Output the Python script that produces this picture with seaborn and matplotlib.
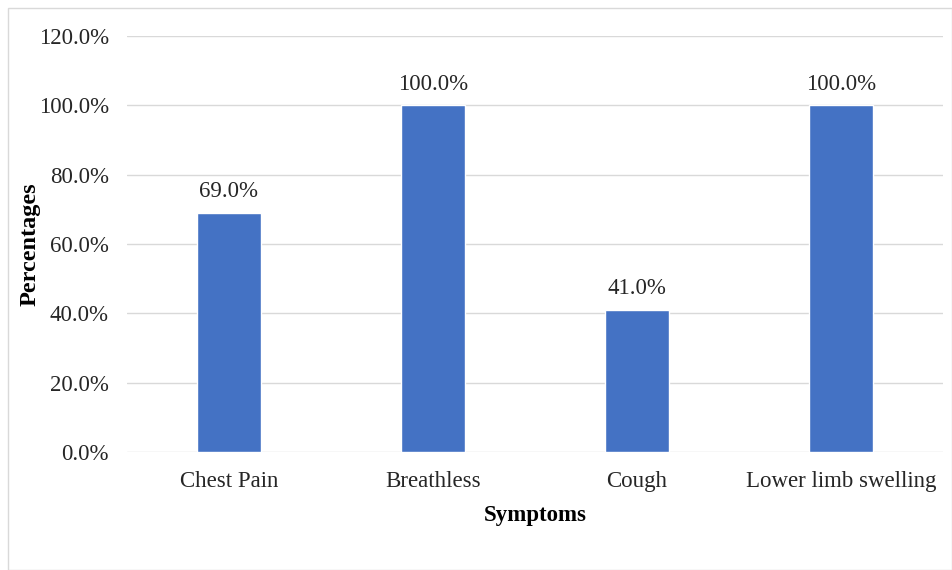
import matplotlib
matplotlib.use("Agg")
import matplotlib.pyplot as plt
from matplotlib.patches import Rectangle
from matplotlib.ticker import FuncFormatter, MultipleLocator
import seaborn as sns
import pandas as pd

symptoms = ["Chest Pain", "Breathless", "Cough", "Lower limb swelling"]
percentages = [69.0, 100.0, 41.0, 100.0]

sns.set_theme(style="white")
plt.rcParams["font.family"] = ["Liberation Serif", "DejaVu Serif"]

df = pd.DataFrame({"Symptoms": symptoms, "Percentages": percentages})

W, H = 952, 570
fig = plt.figure(figsize=(W / 100, H / 100), dpi=100)
ax = fig.add_axes([127 / W, 1 - 452 / H, (943 - 127) / W, (452 - 36) / H])

sns.barplot(data=df, x="Symptoms", y="Percentages", color="#4472C4",
            width=0.31, saturation=1, ax=ax, zorder=3)

ax.set_ylim(0, 120)
ax.set_xlim(-0.5, len(symptoms) - 0.5)
ax.yaxis.set_major_locator(MultipleLocator(20))
ax.yaxis.set_major_formatter(FuncFormatter(lambda v, _: f"{v:.1f}%"))
ax.grid(axis="y", color="#D9D9D9", linewidth=1, zorder=0)
for s in ax.spines.values():
    s.set_visible(False)
ax.tick_params(axis="both", length=0, labelsize=16.5, colors="#262626")
ax.tick_params(axis="x", pad=14)
ax.tick_params(axis="y", pad=13)

for i, v in enumerate(percentages):
    ax.text(i, v + 3, f"{v:.1f}%", ha="center", va="bottom",
            fontsize=16.5, color="#262626")

ax.set_xlabel("Symptoms", fontsize=16.5, fontweight="bold", color="#000000", labelpad=9)
ax.set_ylabel("Percentages", fontsize=17.5, fontweight="bold", color="#000000", labelpad=-1)

fig.patches.append(Rectangle((8 / W, 0), 1 - 8 / W, 1 - 8 / H,
                             transform=fig.transFigure, fill=False,
                             edgecolor="#D9D9D9", linewidth=1))

fig.savefig("out.png", dpi=100)
